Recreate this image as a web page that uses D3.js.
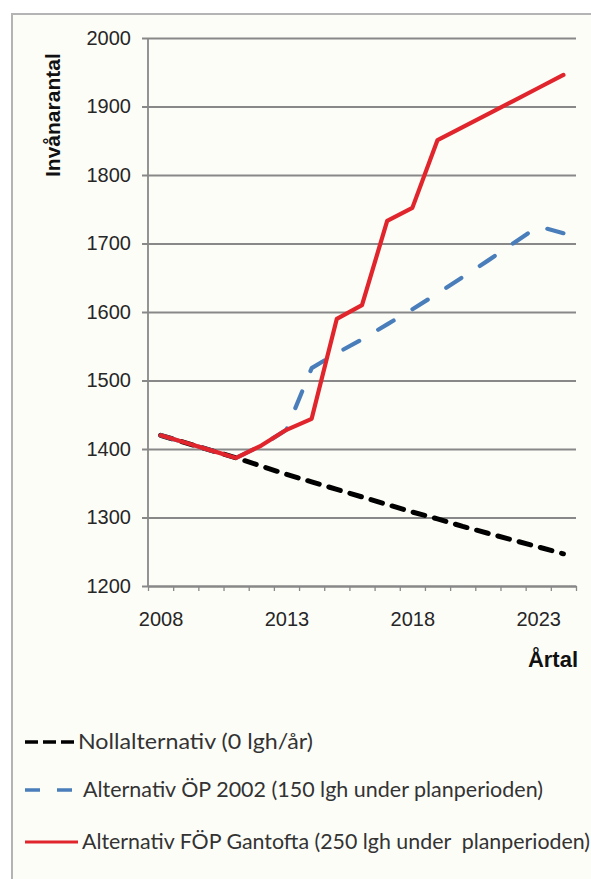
<!DOCTYPE html>
<html>
<head>
<meta charset="utf-8">
<script src="https://cdn.jsdelivr.net/npm/d3@7"></script>
<style>
  body { margin: 0; background: #ffffff; }
  svg { display: block; }
  .legend-text { white-space: pre; }
</style>
</head>
<body>
<div id="chart"></div>
<script>
// ---- data ----
var years = [2008, 2009, 2010, 2011, 2012, 2013, 2014, 2015, 2016, 2017, 2018, 2019, 2020, 2021, 2022, 2023, 2024];
var yearLabels = [2008, 2013, 2018, 2023];
var yTicks = [1200, 1300, 1400, 1500, 1600, 1700, 1800, 1900, 2000];

var nollValues  = [1420, 1409, 1398, 1387, 1375, 1363, 1352, 1341, 1330, 1319, 1308, 1298, 1287, 1277, 1267, 1257, 1247];
var op2002Values = [1420, 1409, 1398, 1387, 1405, 1428, 1518, 1540, 1560, 1582, 1604, 1627, 1651, 1675, 1700, 1725, 1715];
var fopValues   = [1420, 1409, 1398, 1387, 1405, 1428, 1444, 1590, 1610, 1733, 1752, 1851, 1870, 1889, 1908, 1927, 1946];

var seriesNames = [
  "Nollalternativ (0 lgh/år)",
  "Alternativ ÖP 2002 (150 lgh under planperioden)",
  "Alternativ FÖP Gantofta (250 lgh under  planperioden)"
];

// ---- layout ----
var W = 591, H = 879;
var M = {t: 38, l: 148, r: 15, b: 293};
var plotW = W - M.l - M.r;   // 428
var plotH = H - M.t - M.b;   // 548

var svg = d3.select("#chart").append("svg")
    .attr("width", W)
    .attr("height", H);

// outer panel
svg.append("rect")
    .attr("x", 12).attr("y", 14)
    .attr("width", 700).attr("height", 1000)
    .style("fill", "#fdfdf8")
    .style("stroke", "#b4b4b4")
    .style("stroke-width", 2);

var g = svg.append("g")
    .attr("transform", "translate(" + M.l + "," + M.t + ")");

var scaleX = d3.scaleLinear()
    .domain([years[0] - 0.5, years[years.length - 1] + 0.5])
    .range([0, plotW]);

var scaleY = d3.scaleLinear()
    .domain([1200, 2000])
    .range([plotH, 0]);

// gridlines + y axis
var axisY = d3.axisLeft(scaleY)
    .tickValues(yTicks)
    .tickSizeInner(-plotW)
    .tickSizeOuter(0)
    .tickPadding(17)
    .tickFormat(d3.format("d"));

var gy = g.append("g").attr("class", "axis-y").call(axisY);
gy.select(".domain").remove();
gy.selectAll(".tick line")
    .attr("x1", -6)
    .style("stroke", "#888888")
    .style("stroke-width", 1.8);
gy.selectAll(".tick text")
    .style("font-family", "'Liberation Sans', Arial, sans-serif")
    .style("font-size", "20px")
    .style("fill", "#262626");

g.append("line")
    .attr("x1", 0).attr("x2", 0)
    .attr("y1", 0).attr("y2", plotH)
    .style("stroke", "#888888")
    .style("stroke-width", 1.8);

// x axis: ticks at category boundaries, labels every 5 years
var boundaries = years.map(function(d) { return d - 0.5; }).concat([years[years.length - 1] + 0.5]);
var axisXTicks = d3.axisBottom(scaleX)
    .tickValues(boundaries)
    .tickSizeInner(5)
    .tickSizeOuter(0)
    .tickFormat("");
var gx = g.append("g").attr("class", "axis-x")
    .attr("transform", "translate(0," + plotH + ")")
    .call(axisXTicks);
gx.select(".domain").style("stroke", "#888888").style("stroke-width", 1.8);
gx.selectAll(".tick line").style("stroke", "#888888").style("stroke-width", 1.3);

var axisXLabels = d3.axisBottom(scaleX)
    .tickValues(yearLabels)
    .tickSize(0)
    .tickPadding(26)
    .tickFormat(d3.format("d"));
var gxl = g.append("g").attr("class", "axis-x-labels")
    .attr("transform", "translate(0," + plotH + ")")
    .call(axisXLabels);
gxl.select(".domain").remove();
gxl.selectAll(".tick text")
    .style("font-family", "'Liberation Sans', Arial, sans-serif")
    .style("font-size", "20px")
    .style("fill", "#262626");

// axis titles
svg.append("text")
    .attr("transform", "translate(60,177) rotate(-90)")
    .attr("text-anchor", "start")
    .style("font-family", "'Liberation Sans', Arial, sans-serif")
    .style("font-weight", "bold")
    .style("font-size", "21px")
    .style("fill", "#111")
    .text("Invånarantal");

svg.append("text")
    .attr("x", 578).attr("y", 667)
    .attr("text-anchor", "end")
    .style("font-family", "'Liberation Sans', Arial, sans-serif")
    .style("font-weight", "bold")
    .style("font-size", "22px")
    .style("fill", "#111")
    .text("Årtal");

// ---- lines ----
var line = d3.line()
    .x(function(d) { return scaleX(d.year); })
    .y(function(d) { return scaleY(d.value); });

function toPoints(vals) {
  return years.map(function(y, i) { return {year: y, value: vals[i]}; });
}

var styles = [
  {vals: nollValues,   color: "#000000", width: 5,   dash: "12,10", cap: "round"},
  {vals: op2002Values, color: "#4a7ebb", width: 4.2, dash: "18,22", cap: "round"},
  {vals: fopValues,    color: "#e0262c", width: 4.2, dash: null,    cap: "round"}
];

g.selectAll(".series").data(styles).enter().append("path")
    .attr("class", "series")
    .attr("d", function(d) { return line(toPoints(d.vals)); })
    .style("fill", "none")
    .style("stroke", function(d) { return d.color; })
    .style("stroke-width", function(d) { return d.width; })
    .style("stroke-dasharray", function(d) { return d.dash; })
    .style("stroke-linecap", function(d) { return d.cap; })
    .style("stroke-linejoin", "round");

// ---- legend ----
var legendY = [742, 790, 842];
var legendDash = ["13,5", "15,17", null];
var legendTextX = [78, 83, 82];
var legendTextW = [235, 460, 508];

var lg = svg.append("g").attr("class", "legend");
var rows = lg.selectAll(".row").data(seriesNames).enter().append("g")
    .attr("class", "row")
    .attr("transform", function(d, i) { return "translate(0," + legendY[i] + ")"; });

rows.append("line")
    .attr("x1", 25).attr("x2", function(d, i) { return i === 2 ? 78 : 75; })
    .attr("y1", 0).attr("y2", 0)
    .style("stroke", function(d, i) { return styles[i].color; })
    .style("stroke-width", function(d, i) { return i === 2 ? 3 : 3.5; })
    .style("stroke-dasharray", function(d, i) { return legendDash[i]; });

rows.append("text")
    .attr("class", "legend-text")
    .attr("x", function(d, i) { return legendTextX[i]; })
    .attr("y", 7)
    .attr("textLength", function(d, i) { return legendTextW[i]; })
    .attr("lengthAdjust", "spacingAndGlyphs")
    .style("font-family", "Lato, 'Open Sans', sans-serif")
    .style("font-size", "21px")
    .style("fill", "#333333")
    .text(function(d) { return d; });
</script>
</body>
</html>
